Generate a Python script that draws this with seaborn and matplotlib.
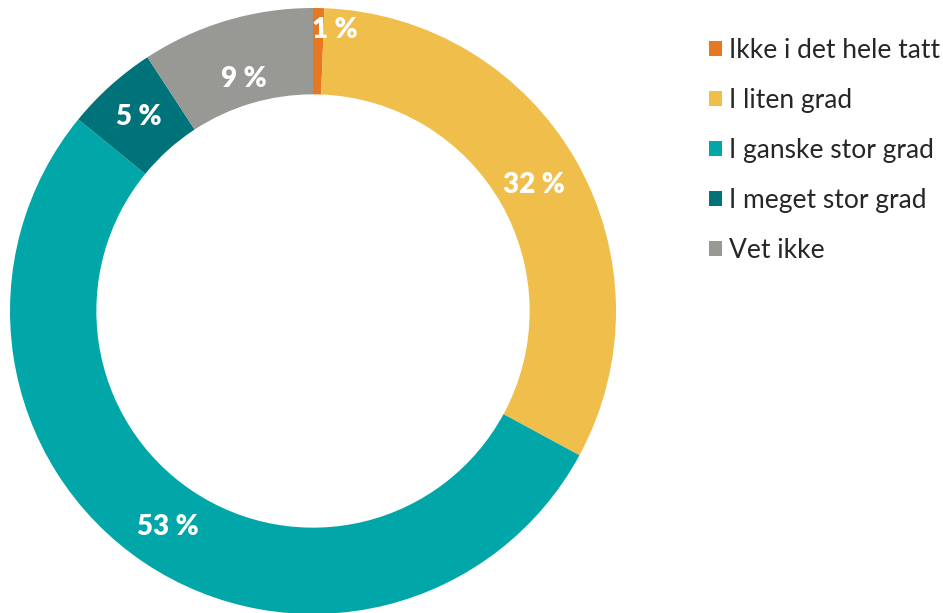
import numpy as np
import matplotlib
matplotlib.use("Agg")
import matplotlib.pyplot as plt
import seaborn as sns
from matplotlib.patches import Patch

categories = ["Ikke i det hele tatt", "I liten grad", "I ganske stor grad",
              "I meget stor grad", "Vet ikke"]
shares = [0.6, 32.3, 53.0, 4.9, 9.2]
colors = ["#E87722", "#F0BE4A", "#00A6A8", "#00737A", "#989894"]

sns.set_theme(style="white")
plt.rcParams["font.family"] = ["Lato", "DejaVu Sans"]

W, H = 943, 613
fig = plt.figure(figsize=(W / 100, H / 100), dpi=100)

# donut axes: centre at (313, 311) px, outer radius 303 px
cx, cy, R = 313, 311, 303
ax = fig.add_axes([(cx - R) / W, (H - cy - R) / H, 2 * R / W, 2 * R / H])
ring = 0.285
wedges, _ = ax.pie(shares, colors=colors, radius=1.0, startangle=90,
                   counterclock=False,
                   wedgeprops=dict(width=ring, edgecolor="none"))
ax.set_xlim(-1, 1)
ax.set_ylim(-1, 1)
ax.set_aspect("equal")
ax.axis("off")

# value labels at the middle of each segment
label_r = [0.93, 0.84, 0.86, 0.86, 0.80]
nudge = [3.4, 0, 0, 0, 0]
total = sum(shares)
start = 0.0
for v, r, dn in zip(shares, label_r, nudge):
    mid = start + v / 2
    ang = np.deg2rad(90 - (mid / total * 360 + dn))
    ax.text(r * np.cos(ang), r * np.sin(ang), f"{v:.0f} %",
            ha="center", va="center", color="white",
            fontsize=20, fontweight="heavy")
    start += v

handles = [Patch(facecolor=c, edgecolor="none") for c in colors]
fig.legend(handles, categories, loc="upper left",
           bbox_to_anchor=(709 / W, 1 - 38 / H), frameon=False,
           fontsize=19, handlelength=0.5, handleheight=0.5,
           handletextpad=0.25, labelspacing=0.95, labelcolor="#262626",
           borderaxespad=0, borderpad=0)

fig.savefig("out.png", dpi=100)
